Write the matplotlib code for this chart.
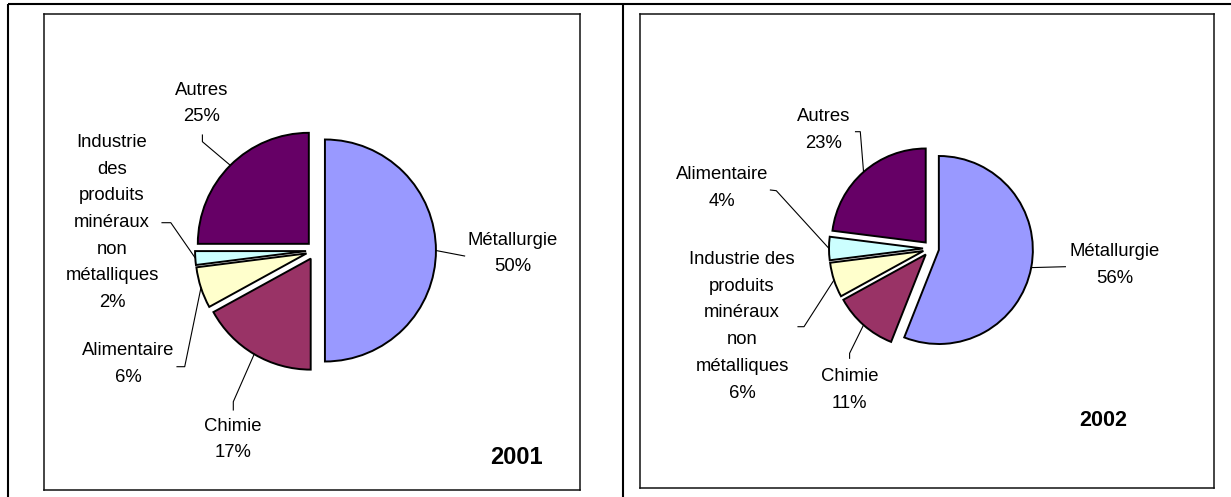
import matplotlib
matplotlib.use("Agg")
import matplotlib.pyplot as plt
import numpy as np

plt.rcParams['font.family'] = ['Liberation Sans', 'DejaVu Sans']

# data
labels_2001 = ["Métallurgie", "Chimie", "Alimentaire",
               "Industrie\ndes\nproduits\nminéraux\nnon\nmétalliques", "Autres"]
values_2001 = [50, 17, 6, 2, 25]

labels_2002 = ["Métallurgie", "Chimie",
               "Industrie des\nproduits\nminéraux\nnon\nmétalliques", "Alimentaire", "Autres"]
values_2002 = [56, 11, 6, 4, 23]

colors = ["#9999FF", "#993366", "#FFFFCC", "#CCFFFF", "#660066"]

W, H = 1231, 497
fig = plt.figure(figsize=(W / 100, H / 100), dpi=100)

# background axes for the table lines (pixel coords, y up)
bg = fig.add_axes([0, 0, 1, 1])
bg.set_xlim(0, W)
bg.set_ylim(0, H)
bg.axis('off')
bg.plot([7.7, W], [H - 4, H - 4], color='black', lw=1.5, solid_capstyle='butt')
bg.plot([7.7, 7.7], [0, H - 4], color='black', lw=1.5, solid_capstyle='butt')
bg.plot([622.5, 622.5], [0, H - 4], color='black', lw=1.5, solid_capstyle='butt')


def P(px, py):
    # figure pixel (top-left origin) -> data coords (y up)
    return px, H - py


def make_panel(box, center, radius, values, names, label_pos, leaders, year, year_pos, year_size):
    x0, y0, x1, y1 = box
    ax = fig.add_axes([x0 / W, (H - y1) / H, (x1 - x0) / W, (y1 - y0) / H])
    for s in ax.spines.values():
        s.set_linewidth(1.1)
        s.set_color('#111111')

    # explode is in data units here, so scale by radius
    wedges, _ = ax.pie(values, colors=colors, startangle=90, counterclock=False,
                       explode=[0.085 * radius] * len(values), center=P(*center),
                       radius=radius, frame=True,
                       wedgeprops=dict(edgecolor='black', linewidth=1.4))
    ax.set_xlim(x0, x1)
    ax.set_ylim(H - y1, H - y0)
    ax.set_aspect('auto')
    ax.set_xticks([])
    ax.set_yticks([])

    total = sum(values)
    for w, name, v, lp, ld in zip(wedges, names, values, label_pos, leaders):
        ang = np.deg2rad((w.theta1 + w.theta2) / 2)
        tip = (w.center[0] + w.r * np.cos(ang), w.center[1] + w.r * np.sin(ang))
        pts = [P(*p) for p in ld] + [tip]
        xs, ys = zip(*pts)
        ax.plot(xs, ys, color='black', lw=0.8)
        pct = round(100 * v / total)
        ax.text(*P(*lp), f"{name}\n{pct}%", ha='center', va='center',
                multialignment='center', fontsize=13.3, linespacing=1.75)

    ax.text(*P(*year_pos), year, ha='center', va='center',
            fontsize=year_size, fontweight='bold')


# label positions / leader knees (layout, figure pixels)
pos_2001 = [(513, 253.5), (233, 439.5), (128.5, 364), (112, 222.5), (202, 103.5)]
lead_2001 = [[(464.6, 256)],
             [(233.3, 410), (233.3, 401.7)],
             [(177, 366.7), (184.7, 366.7)],
             [(162, 222.7), (170.8, 222.7)],
             [(202.4, 135), (202.4, 141.7)]]

pos_2002 = [(1115, 265), (849.6, 390), (742, 326.3), (722, 188.3), (824, 130)]
lead_2002 = [[(1065.4, 266.7)],
             [(849.6, 358.3), (849.6, 353.3)],
             [(798, 326.7), (804, 326.7)],
             [(770.4, 190), (776.3, 190.7)],
             [(855.5, 131.7), (860.3, 131.7)]]

make_panel((44.3, 13.5, 580.3, 490), (315.5, 250.5), 111, values_2001, labels_2001,
           pos_2001, lead_2001, "2001", (516, 458), 17)
make_panel((640, 13.5, 1214, 487.7), (931, 248.5), 94, values_2002, labels_2002,
           pos_2002, lead_2002, "2002", (1103, 420), 15.5)

fig.savefig("out.png", dpi=100)
